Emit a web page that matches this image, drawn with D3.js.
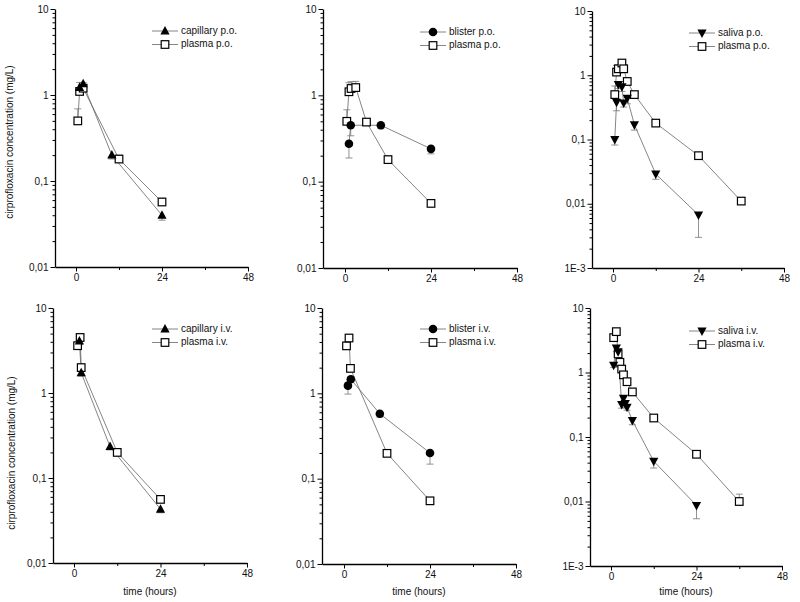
<!DOCTYPE html>
<html><head><meta charset="utf-8">
<script src="https://cdn.jsdelivr.net/npm/d3@7"></script>
<style>
body{margin:0;background:#fff;}
text{font-family:"Liberation Sans",Arial,sans-serif;fill:#111;}
</style></head>
<body><svg id="c" width="800" height="602"></svg>
<script>
// ---------- data ----------
const xTickValues = [0, 24, 48];
const xMinorTicks = [12, 36];
const yTicks3 = [0.01, 0.1, 1, 10];
const yTickLabels3 = ["0,01", "0,1", "1", "10"];
const yTicks4 = [0.001, 0.01, 0.1, 1, 10];
const yTickLabels4 = ["1E-3", "0,01", "0,1", "1", "10"];
const yTitle = "cirprofloxacin concentration (mg/L)";
const xTitle = "time (hours)";

// panel 1: capillary p.o.
const capPoTime = [1, 2, 10, 24];
const capPoConc = [1.22, 1.35, 0.2, 0.04];
const capPoSD   = [0.1, 0.12, 0.02, 0.005];
const plasmaPo1Time = [0.5, 1, 2, 12, 24];
const plasmaPo1Conc = [0.5, 1.1, 1.2, 0.18, 0.057];
const plasmaPo1SD   = [0.19, 0.3, 0.2, 0.02, 0.006];
// panel 2: blister p.o.
const blisPoTime = [1.1, 1.6, 10, 24];
const blisPoConc = [0.275, 0.45, 0.45, 0.24];
const blisPoSD   = [0.087, 0.11, 0.04, 0.03];
const plasmaPo2Time = [0.5, 1.1, 1.7, 3, 6, 12, 24];
const plasmaPo2Conc = [0.5, 1.1, 1.2, 1.23, 0.49, 0.18, 0.056];
const plasmaPo2SD   = [0.18, 0.3, 0.24, 0.22, 0.03, 0.02, 0.005];
// panel 3: saliva p.o.
const salPoTime = [0.5, 1, 1.5, 2.5, 3, 4, 6, 12, 24];
const salPoConc = [0.1, 0.38, 0.72, 0.66, 0.37, 0.44, 0.17, 0.029, 0.0067];
const salPoSD   = [0.018, 0.1, 0.1, 0.1, 0.05, 0.08, 0.03, 0.005, 0.0037];
const plasmaPo3Time = [0.5, 1, 1.5, 2.5, 3, 4, 6, 12, 24, 36];
const plasmaPo3Conc = [0.5, 1.12, 1.26, 1.55, 1.26, 0.8, 0.5, 0.18, 0.056, 0.011];
const plasmaPo3SD   = [0.18, 0.3, 0.2, 0.2, 0.2, 0.1, 0.04, 0.02, 0.005, 0.001];
// panel 4: capillary i.v.
const capIvTime = [1.5, 2, 10, 24];
const capIvConc = [4.1, 1.73, 0.234, 0.043];
const capIvSD   = [0.4, 0.15, 0.02, 0.004];
const plasmaIv1Time = [1, 1.7, 2, 12, 24];
const plasmaIv1Conc = [3.6, 4.5, 1.99, 0.2, 0.056];
const plasmaIv1SD   = [0.3, 0.4, 0.2, 0.02, 0.004];
// panel 5: blister i.v.
const blisIvTime = [1.1, 1.9, 10, 24];
const blisIvConc = [1.23, 1.46, 0.577, 0.2];
const blisIvSD   = [0.25, 0.1, 0.05, 0.052];
const plasmaIv2Time = [0.7, 1.4, 1.8, 12, 24];
const plasmaIv2Conc = [3.6, 4.45, 1.96, 0.198, 0.055];
const plasmaIv2SD   = [0.3, 0.4, 0.2, 0.02, 0.004];
// panel 6: saliva i.v.
const salIvTime = [0.75, 1.5, 2, 3, 3.5, 4, 4.5, 6, 12, 24];
const salIvConc = [1.3, 2.4, 2.1, 0.32, 0.4, 0.33, 0.29, 0.18, 0.042, 0.0087];
const salIvSD   = [0.1, 0.3, 0.2, 0.04, 0.05, 0.04, 0.03, 0.025, 0.009, 0.0033];
const plasmaIv3Time = [0.75, 1.5, 2, 2.5, 3, 3.5, 4.5, 6, 12, 24, 36];
const plasmaIv3Conc = [3.47, 4.3, 1.94, 1.44, 1.13, 0.92, 0.72, 0.5, 0.197, 0.054, 0.01];
const plasmaIv3SD   = [0.3, 0.4, 0.2, 0.15, 0.1, 0.08, 0.06, 0.04, 0.02, 0.004, 0.003];

// ---------- layout ----------
const zip = (t, c, s) => t.map((d, i) => ({t: d, c: c[i], sd: s[i]}));
const panels = [
  {left:55, x0:76, x48:248, top:9, bottom:267, dec:3, ytitle:{x:10,y:142}, xtitle:false, legX:165, legY:31,
   tissue:{name:"capillary p.o.", sym:"tri", data:zip(capPoTime,capPoConc,capPoSD)},
   plasma:{name:"plasma p.o.", data:zip(plasmaPo1Time,plasmaPo1Conc,plasmaPo1SD)}},
  {left:323, x0:345, x48:517, top:9, bottom:268, dec:3, ytitle:null, xtitle:false, legX:433, legY:32,
   tissue:{name:"blister p.o.", sym:"circ", data:zip(blisPoTime,blisPoConc,blisPoSD)},
   plasma:{name:"plasma p.o.", data:zip(plasmaPo2Time,plasmaPo2Conc,plasmaPo2SD)}},
  {left:592, x0:613, x48:784, top:11, bottom:268, dec:4, ytitle:null, xtitle:false, legX:702, legY:33,
   tissue:{name:"saliva p.o.", sym:"tridown", data:zip(salPoTime,salPoConc,salPoSD)},
   plasma:{name:"plasma p.o.", data:zip(plasmaPo3Time,plasmaPo3Conc,plasmaPo3SD)}},
  {left:53, x0:74, x48:247, top:308, bottom:563, dec:3, ytitle:{x:12,y:453}, xtitle:true, legX:165, legY:329,
   tissue:{name:"capillary i.v.", sym:"tri", data:zip(capIvTime,capIvConc,capIvSD)},
   plasma:{name:"plasma i.v.", data:zip(plasmaIv1Time,plasmaIv1Conc,plasmaIv1SD)}},
  {left:322, x0:344, x48:516, top:308, bottom:564, dec:3, ytitle:null, xtitle:true, legX:433, legY:329,
   tissue:{name:"blister i.v.", sym:"circ", data:zip(blisIvTime,blisIvConc,blisIvSD)},
   plasma:{name:"plasma i.v.", data:zip(plasmaIv2Time,plasmaIv2Conc,plasmaIv2SD)}},
  {left:590, x0:611, x48:782, top:308, bottom:566, dec:4, ytitle:null, xtitle:true, legX:702, legY:331,
   tissue:{name:"saliva i.v.", sym:"tridown", data:zip(salIvTime,salIvConc,salIvSD)},
   plasma:{name:"plasma i.v.", data:zip(plasmaIv3Time,plasmaIv3Conc,plasmaIv3SD)}}
];

const svg = d3.select("#c");
const lineCol = "#666", errCol = "#777";

function drawSymbol(g, sym, x, y) {
  if (sym === "tri") {
    g.append("path").attr("d", `M${x},${y-5} L${x+4.6},${y+3.5} L${x-4.6},${y+3.5} Z`).attr("fill", "#000");
  } else if (sym === "tridown") {
    g.append("path").attr("d", `M${x},${y+5} L${x+4.6},${y-3.5} L${x-4.6},${y-3.5} Z`).attr("fill", "#000");
  } else if (sym === "circ") {
    g.append("circle").attr("cx", x).attr("cy", y).attr("r", 4.3).attr("fill", "#000");
  } else {
    g.append("rect").attr("x", x-3.8).attr("y", y-3.8).attr("width", 7.6).attr("height", 7.6)
      .attr("fill", "#fff").attr("stroke", "#000").attr("stroke-width", 1.2);
  }
}

panels.forEach(p => {
  const x = d3.scaleLinear().domain([0, 48]).range([p.x0, p.x48]);
  const xMin = x.invert(p.left);
  x.domain([xMin, 48]).range([p.left, p.x48]);
  const yMin = p.dec === 4 ? 0.001 : 0.01;
  const y = d3.scaleLog().domain([yMin, 10]).range([p.bottom, p.top]);
  const majors = p.dec === 4 ? yTicks4 : yTicks3;
  const labels = p.dec === 4 ? yTickLabels4 : yTickLabels3;
  const minors = [];
  majors.slice(0, -1).forEach(m => { for (let k = 2; k <= 9; k++) minors.push(m * k); });

  const g = svg.append("g");
  // minor ticks
  g.append("g").attr("transform", `translate(${p.left},0)`)
    .call(d3.axisLeft(y).tickValues(minors).tickSize(2.5).tickFormat("").tickSizeOuter(0))
    .call(a => a.select(".domain").remove());
  g.append("g").attr("transform", `translate(0,${p.bottom})`)
    .call(d3.axisBottom(x).tickValues(xMinorTicks).tickSize(3).tickFormat("").tickSizeOuter(0))
    .call(a => a.select(".domain").remove());
  // major axes
  const ya = g.append("g").attr("transform", `translate(${p.left},0)`)
    .call(d3.axisLeft(y).tickValues(majors).tickSize(4.5).tickPadding(2)
      .tickFormat((d, i) => labels[i]).tickSizeOuter(0));
  const xa = g.append("g").attr("transform", `translate(0,${p.bottom})`)
    .call(d3.axisBottom(x).tickValues(xTickValues).tickSize(4.5).tickPadding(2.5).tickSizeOuter(0));
  [ya, xa].forEach(a => {
    a.select(".domain").attr("stroke", "#000").attr("stroke-width", 1.3);
    a.selectAll(".tick line").attr("stroke", "#000").attr("stroke-width", 1);
    a.selectAll("text").style("font-size", "10px").attr("fill", "#111")
      .style("font-family", "'Liberation Sans',Arial,sans-serif");
  });
  g.selectAll(".tick line").attr("stroke", "#000");

  if (p.ytitle) {
    g.append("text").attr("transform", `translate(${p.ytitle.x},${p.ytitle.y}) rotate(-90)`)
      .attr("text-anchor", "middle").attr("dominant-baseline", "middle")
      .style("font-size", "10px").text(yTitle);
  }
  if (p.xtitle) {
    g.append("text").attr("x", (p.left + p.x48) / 2).attr("y", 595)
      .attr("text-anchor", "middle").style("font-size", "10px").text(xTitle);
  }

  const line = d3.line().x(d => x(d.t)).y(d => y(d.c));
  [p.plasma, p.tissue].forEach(s => {
    g.append("path").datum(s.data).attr("d", line).attr("fill", "none")
      .attr("stroke", lineCol).attr("stroke-width", 0.8);
  });
  // error bars: plasma upward, tissue downward
  [[p.plasma, 1], [p.tissue, -1]].forEach(([s, dir]) => {
    s.data.forEach(d => {
      const v2 = d.c + dir * d.sd;
      const xx = x(d.t), y1 = y(d.c), y2 = y(v2);
      g.append("line").attr("x1", xx).attr("x2", xx).attr("y1", y1).attr("y2", y2)
        .attr("stroke", errCol).attr("stroke-width", 0.8);
      g.append("line").attr("x1", xx - 3.5).attr("x2", xx + 3.5).attr("y1", y2).attr("y2", y2)
        .attr("stroke", errCol).attr("stroke-width", 0.8);
    });
  });
  p.plasma.data.forEach(d => drawSymbol(g, "sq", x(d.t), y(d.c)));
  p.tissue.data.forEach(d => drawSymbol(g, p.tissue.sym, x(d.t), y(d.c)));

  // legend
  const leg = [[p.tissue.name, p.tissue.sym], [p.plasma.name, "sq"]];
  leg.forEach(([name, sym], i) => {
    const ly = p.legY + i * 13.5;
    g.append("line").attr("x1", p.legX - 13).attr("x2", p.legX + 13).attr("y1", ly).attr("y2", ly)
      .attr("stroke", lineCol).attr("stroke-width", 0.8);
    drawSymbol(g, sym, p.legX, ly);
    g.append("text").attr("x", p.legX + 16).attr("y", ly).attr("dominant-baseline", "middle")
      .style("font-size", "10px").text(name);
  });
});
</script></body></html>
